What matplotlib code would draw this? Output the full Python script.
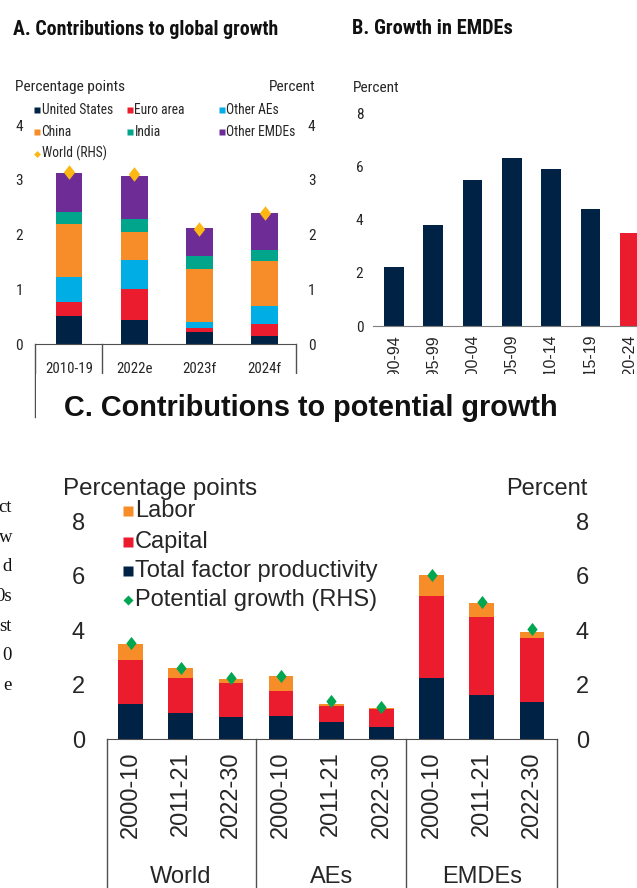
import matplotlib
matplotlib.use("Agg")
import matplotlib.pyplot as plt
import matplotlib.transforms as mtrans
from matplotlib import font_manager
from matplotlib.patches import Rectangle
from matplotlib.lines import Line2D

W, H = 637, 888

# ---- data ----
# A. contributions to global growth (percentage points), world growth (percent)
a_cats = ["2010-19", "2022e", "2023f", "2024f"]
a_us = [0.52, 0.44, 0.22, 0.15]
a_euro = [0.24, 0.56, 0.08, 0.22]
a_other_ae = [0.47, 0.53, 0.11, 0.33]
a_china = [0.97, 0.52, 0.96, 0.82]
a_india = [0.21, 0.23, 0.24, 0.20]
a_other_emde = [0.71, 0.79, 0.50, 0.67]
a_world = [3.15, 3.1, 2.1, 2.4]

# B. growth in EMDEs (percent)
b_periods = ["1990-94", "1995-99", "2000-04", "2005-09", "2010-14", "2015-19", "2020-24"]
b_growth = [2.2, 3.8, 5.5, 6.3, 5.9, 4.4, 3.5]

# C. contributions to potential growth
c_groups = ["World", "AEs", "EMDEs"]
c_periods = ["2000-10", "2011-21", "2022-30"]
c_tfp = [1.3, 0.95, 0.8, 0.85, 0.62, 0.45, 2.24, 1.62, 1.36]
c_capital = [1.6, 1.29, 1.25, 0.92, 0.58, 0.64, 3.02, 2.87, 2.35]
c_labor = [0.59, 0.36, 0.15, 0.53, 0.10, 0.04, 0.77, 0.51, 0.23]
c_potential = [3.53, 2.62, 2.24, 2.32, 1.4, 1.18, 6.03, 5.04, 4.04]

# fragments of the report text cut off at the left edge
side_text = ["ct", "w", "d", "0s", "st", "0", "e"]

NAVY = "#002345"
RED = "#EB1C2D"
CYAN = "#00ADE4"
ORANGE = "#F78D28"
TEAL = "#00A58C"
PURPLE = "#6E2C96"
GOLD = "#FDB714"
GREEN = "#00A650"
TXT = "#262626"
LINE = "#505050"


def have(name):
    try:
        font_manager.findfont(font_manager.FontProperties(family=name), fallback_to_default=False)
        return True
    except ValueError:
        return False


def pick_narrow():
    for fam in ["Liberation Sans Narrow", "Arial Narrow", "Roboto Condensed",
                "Open Sans Condensed", "DejaVu Sans Condensed", "Noto Sans Condensed"]:
        if have(fam):
            return {"fontfamily": fam}
    for fam in ["DejaVu Sans", "Open Sans", "Roboto", "Noto Sans", "Liberation Sans"]:
        try:
            p = font_manager.findfont(font_manager.FontProperties(family=fam, stretch="condensed"),
                                      fallback_to_default=False)
        except ValueError:
            continue
        if "ondensed" in p or "arrow" in p:
            return {"fontfamily": fam, "fontstretch": "condensed"}
    return {"fontfamily": "Liberation Sans"}


NARROW = pick_narrow()
SANS = "Liberation Sans"
SERIF = "Liberation Serif"


def box(x0, y0, x1, y1):
    # pixel box (y from top) -> figure fraction rect
    return [x0 / W, 1 - y1 / H, (x1 - x0) / W, (y1 - y0) / H]


def ftext(x, y, s, **kw):
    kw.setdefault("color", TXT)
    kw.setdefault("va", "baseline")
    return fig.text(x / W, 1 - y / H, s, **kw)


def fit(t, width):
    r = fig.canvas.get_renderer()
    w = t.get_window_extent(r).width
    t.set_fontsize(t.get_fontsize() * width / w)
    return t.get_fontsize()


def fmark(x, y, marker, ms, color):
    fig.add_artist(Line2D([x / W], [1 - y / H], marker=marker, ms=ms, color=color,
                          mec="none", ls="none", transform=fig.transFigure, zorder=3))


tall_diamond = [(0, 1), (0.78, 0), (0, -1), (-0.78, 0), (0, 1)]

fig = plt.figure(figsize=(W / 100, H / 100), dpi=100)

# size of the small narrow text in A and B, set so "Percentage points" is 110 px wide
t = ftext(15, 91, "Percentage points", fontsize=12, **NARROW)
fs = fit(t, 110)
fs_leg = fs * 0.88

# ================= panel A =================
ax_a = fig.add_axes(box(35, 125, 296, 344))
xa = list(range(len(a_cats)))
bottom = [0.0] * len(xa)
for vals, col in zip([a_us, a_euro, a_other_ae, a_china, a_india, a_other_emde],
                     [NAVY, RED, CYAN, ORANGE, TEAL, PURPLE]):
    ax_a.bar(xa, vals, 0.41, bottom=bottom, color=col, lw=0)
    bottom = [b + v for b, v in zip(bottom, vals)]
ax_a.set_xlim(-0.52, 3.48)
ax_a.set_ylim(0, 4)
ax_a.set_yticks(range(5))
ax_a.set_xticks(xa, a_cats, fontsize=fs * 0.97, color=TXT, **NARROW)
for s in ["top", "left", "right"]:
    ax_a.spines[s].set_visible(False)
ax_a.spines["bottom"].set_color(LINE)
ax_a.tick_params(axis="y", length=0, pad=8.6, labelcolor=TXT)
ax_a.tick_params(axis="x", length=0, pad=13, labelcolor=TXT)
for lab in ax_a.get_yticklabels():
    lab.set(fontsize=fs, **NARROW)

tr = mtrans.blended_transform_factory(ax_a.transData, ax_a.transAxes)
ax_a.plot([-0.52, -0.52], [0, -(417 - 344) / 219], transform=tr, clip_on=False, color=LINE, lw=1)
for xv in [0.5, 3.48]:
    ax_a.plot([xv, xv], [0, -(375 - 344) / 219], transform=tr, clip_on=False, color=LINE, lw=1)

ax_a2 = ax_a.twinx()
ax_a2.set_ylim(0, 4)
ax_a2.set_yticks(range(5))
ax_a2.plot(xa, a_world, ls="none", marker=tall_diamond, ms=10.5, color=GOLD, mec="none")
for s in ax_a2.spines.values():
    s.set_visible(False)
ax_a2.tick_params(axis="y", length=0, pad=8.6, labelcolor=TXT)
for lab in ax_a2.get_yticklabels():
    lab.set(fontsize=fs, **NARROW)

t = ftext(13, 35, "A. Contributions to global growth", fontweight="bold", fontsize=14.5,
          color="#111111", **NARROW)
fit(t, 265)
ftext(316, 91, "Percent", fontsize=fs, ha="right", **NARROW)

a_legend = [("United States", NAVY, "s", 37, 114), ("Euro area", RED, "s", 130, 114),
            ("Other AEs", CYAN, "s", 222, 114), ("China", ORANGE, "s", 37, 136),
            ("India", TEAL, "s", 130, 136), ("Other EMDEs", PURPLE, "s", 222, 136),
            ("World (RHS)", GOLD, "D", 37, 158)]
for label, col, mk, lx, ly in a_legend:
    fmark(lx, ly - 4, mk, 4.2 if mk == "s" else 3.5, col)
    ftext(lx + 4.5, ly, label, fontsize=fs_leg, **NARROW)

# ================= panel B =================
ax_b = fig.add_axes(box(373, 113, 373 + 7 * 39.3, 326))
xb = list(range(len(b_periods)))
ax_b.bar(xb, b_growth, 0.5, color=[NAVY] * (len(xb) - 1) + [RED], lw=0)
ax_b.set_xlim(-0.53, 6.47)
ax_b.set_ylim(0, 8)
ax_b.set_yticks(range(0, 9, 2))
ax_b.set_xticks(xb, b_periods, rotation=90, fontfamily=SANS, fontsize=11.5, color=TXT)
for s in ["top", "left", "right"]:
    ax_b.spines[s].set_visible(False)
ax_b.spines["bottom"].set_color("#7f7f7f")
ax_b.tick_params(axis="y", length=0, pad=7, labelcolor=TXT)
ax_b.tick_params(axis="x", length=0, pad=6)
for lab in ax_b.get_yticklabels():
    lab.set(fontsize=fs, **NARROW)

t = ftext(352, 34, "B. Growth in EMDEs", fontweight="bold", fontsize=14.5,
          color="#111111", **NARROW)
fit(t, 161)
ftext(353, 92, "Percent", fontsize=fs, **NARROW)

# white sheet of panel C lying over the lower part of A and B
fig.add_artist(Rectangle((36 / W, 0), 1 - 36 / W, 1 - 374 / H, transform=fig.transFigure,
                         facecolor="white", edgecolor="none", zorder=1.5))

# ================= panel C =================
ax_c = fig.add_axes(box(107, 521.4, 557, 739))
ax_c.set_zorder(2)
xc = list(range(len(c_tfp)))
bottom = [0.0] * len(xc)
for vals, col in zip([c_tfp, c_capital, c_labor], [NAVY, RED, ORANGE]):
    ax_c.bar(xc, vals, 0.49, bottom=bottom, color=col, lw=0)
    bottom = [b + v for b, v in zip(bottom, vals)]
ax_c.set_xlim(-0.47, 8.5)
ax_c.set_ylim(0, 8)
ax_c.set_yticks(range(0, 9, 2))
ax_c.set_xticks(xc, c_periods * len(c_groups), rotation=90, fontfamily=SANS, fontsize=17, color=TXT)
for s in ["top", "left", "right"]:
    ax_c.spines[s].set_visible(False)
ax_c.spines["bottom"].set_color(LINE)
ax_c.tick_params(axis="y", length=0, pad=16, labelsize=17, labelcolor=TXT)
ax_c.tick_params(axis="x", length=0, pad=9)
for lab in ax_c.get_yticklabels():
    lab.set_fontfamily(SANS)

trc = mtrans.blended_transform_factory(ax_c.transData, ax_c.transAxes)
for xv in [-0.47, 2.5, 5.5, 8.5]:
    ax_c.plot([xv, xv], [0, -0.72], transform=trc, clip_on=False, color=LINE, lw=1)
for g, name in enumerate(c_groups):
    ax_c.text(1 + 3 * g, -(883 - 739) / 217.6, name, transform=trc, ha="center", va="baseline",
              fontfamily=SANS, fontsize=17, color=TXT)

ax_c2 = ax_c.twinx()
ax_c2.set_zorder(2.1)
ax_c2.set_ylim(0, 8)
ax_c2.set_yticks(range(0, 9, 2))
ax_c2.plot(xc, c_potential, ls="none", marker=tall_diamond, ms=9.5, color=GREEN, mec="none")
for s in ax_c2.spines.values():
    s.set_visible(False)
ax_c2.tick_params(axis="y", length=0, pad=13.5, labelsize=17, labelcolor=TXT)
for lab in ax_c2.get_yticklabels():
    lab.set_fontfamily(SANS)

t = ftext(64, 416, "C. Contributions to potential growth", fontfamily=SANS, fontweight="bold",
          fontsize=20.5, color="#111111")
fit(t, 494)
t = ftext(63, 495, "Percentage points", fontfamily=SANS, fontsize=17)
fit(t, 195)
ftext(587, 495, "Percent", fontfamily=SANS, fontsize=17, ha="right")

c_legend = [("Labor", ORANGE, "s", 517), ("Capital", RED, "s", 548),
            ("Total factor productivity", NAVY, "s", 577), ("Potential growth (RHS)", GREEN, "D", 606)]
for label, col, mk, ly in c_legend:
    fmark(128, ly - 6.5, mk, 7 if mk == "s" else 5.5, col)
    ftext(135, ly, label, fontfamily=SANS, fontsize=17)

# ---- cut-off report text at the left edge ----
for i, s in enumerate(side_text):
    ftext(12, 512 + 29.7 * i, s, fontfamily=SERIF, fontsize=13.5, ha="right", color="#111111")

fig.savefig("out.png", dpi=100)
